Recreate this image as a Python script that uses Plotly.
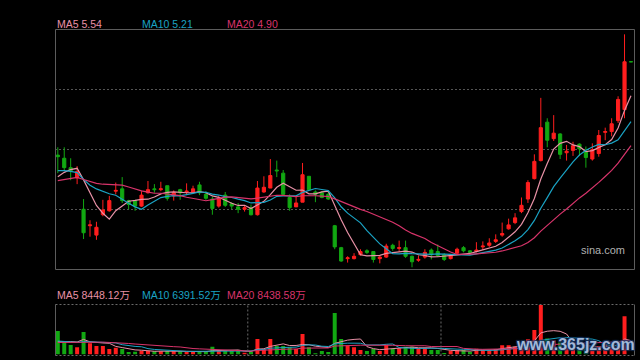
import plotly.graph_objects as go
import pandas as pd

# ---------------- data (daily bars) ----------------
open_ = [4.78, 4.74, 4.62, 4.49, 4.09, 3.88, 3.76, 4.02, 4.07, 4.32,
         4.35, 4.20, 4.20, 4.13, 4.30, 4.35, 4.34, 4.39, 4.26, 4.34,
         4.31, 4.31, 4.40, 4.28, 4.22, 4.13, 4.27, 4.16, 4.12, 4.09,
         4.11, 4.02, 4.31, 4.36, 4.59, 4.55, 4.24, 4.12, 4.18, 4.51,
         4.31, 4.30, 4.28, 3.88, 3.60, 3.46, 3.46, 3.51, 3.56, 3.55,
         3.46, 3.48, 3.63, 3.59, 3.60, 3.49, 3.44, 3.48, 3.57, 3.55,
         3.51, 3.46, 3.53, 3.60, 3.56, 3.55, 3.61, 3.63, 3.68, 3.76,
         3.84, 3.92, 4.06, 4.22, 4.48, 4.71, 5.20, 4.99, 5.05, 4.81,
         4.84, 4.92, 4.82, 4.73, 4.80, 5.07, 5.08, 5.22, 5.36, 5.97]
close = [4.76, 4.62, 4.58, 4.57, 3.79, 3.89, 3.86, 4.08, 4.20, 4.33,
         4.20, 4.15, 4.13, 4.27, 4.34, 4.34, 4.35, 4.23, 4.30, 4.30,
         4.32, 4.35, 4.30, 4.23, 4.10, 4.23, 4.14, 4.13, 4.09, 4.11,
         4.02, 4.36, 4.37, 4.52, 4.58, 4.28, 4.11, 4.17, 4.53, 4.34,
         4.28, 4.24, 4.22, 3.61, 3.43, 3.47, 3.49, 3.55, 3.54, 3.45,
         3.48, 3.62, 3.59, 3.60, 3.49, 3.42, 3.45, 3.54, 3.51, 3.50,
         3.45, 3.50, 3.58, 3.56, 3.54, 3.57, 3.62, 3.66, 3.70, 3.78,
         3.89, 3.98, 4.14, 4.43, 4.70, 5.13, 4.97, 5.06, 4.79, 4.83,
         4.90, 4.86, 4.75, 4.85, 5.03, 5.08, 5.18, 5.49, 5.97, 5.97]
high = [4.88, 4.88, 4.74, 4.64, 4.22, 3.95, 3.93, 4.21, 4.26, 4.43,
        4.50, 4.21, 4.21, 4.32, 4.45, 4.41, 4.44, 4.39, 4.33, 4.35,
        4.42, 4.39, 4.44, 4.32, 4.25, 4.26, 4.31, 4.18, 4.17, 4.14,
        4.15, 4.45, 4.51, 4.73, 4.71, 4.59, 4.28, 4.26, 4.68, 4.51,
        4.33, 4.32, 4.32, 3.89, 3.61, 3.49, 3.53, 3.58, 3.58, 3.55,
        3.50, 3.65, 3.65, 3.69, 3.69, 3.50, 3.50, 3.58, 3.59, 3.64,
        3.53, 3.52, 3.60, 3.62, 3.57, 3.67, 3.68, 3.72, 3.77, 3.92,
        3.97, 4.04, 4.24, 4.46, 4.79, 5.51, 5.25, 5.29, 5.06, 4.91,
        4.95, 4.93, 4.89, 4.93, 5.10, 5.13, 5.25, 5.53, 6.32, 5.97]
low = [4.55, 4.59, 4.46, 4.41, 3.71, 3.74, 3.70, 4.00, 4.06, 4.28,
       4.17, 4.09, 4.07, 4.12, 4.29, 4.30, 4.32, 4.20, 4.20, 4.21,
       4.27, 4.30, 4.27, 4.21, 4.02, 4.11, 4.12, 4.09, 4.04, 4.06,
       4.01, 4.01, 4.30, 4.36, 4.50, 4.26, 4.07, 4.12, 4.18, 4.33,
       4.18, 4.23, 4.21, 3.58, 3.42, 3.41, 3.45, 3.50, 3.52, 3.41,
       3.40, 3.47, 3.56, 3.55, 3.47, 3.35, 3.42, 3.46, 3.45, 3.48,
       3.43, 3.45, 3.52, 3.54, 3.51, 3.54, 3.57, 3.61, 3.66, 3.74,
       3.83, 3.90, 4.04, 4.17, 4.47, 4.70, 4.88, 4.96, 4.73, 4.71,
       4.77, 4.77, 4.62, 4.71, 4.76, 4.97, 5.02, 5.19, 5.25, 5.97]
# volume in 万 shares
volume = [14340, 7808, 5795, 4392, 13725, 6832, 5185, 5120, 3355, 4148,
          3355, 1525, 1708, 2318, 2290, 1952, 1940, 2135, 1960, 1985,
          1525, 1540, 1952, 1708, 4758, 2318, 2340, 2135, 2300, 1098,
          1525, 9455, 3172, 9420, 5185, 5160, 4392, 3355, 12505, 4380,
          732, 2135, 1525, 25315, 9455, 5368, 4392, 2745, 2135, 3355,
          2150, 5978, 3355, 3782, 4758, 4740, 3965, 4148, 2745, 2760,
          915, 2318, 2745, 2730, 1708, 3538, 2745, 2760, 3355, 5612,
          5600, 4758, 6832, 9272, 14945, 30195, 9760, 8540, 7320, 6710,
          3660, 4270, 4880, 3660, 5185, 6100, 5490, 7320, 23330, 0]
# off-chart history (before the first visible day), only used for the moving averages
prior_close = [4.36, 4.31, 4.27, 4.34, 4.39, 4.35, 4.30, 4.32, 4.34, 4.30,
               4.62, 4.69, 4.72, 4.65, 4.63, 4.34, 4.40, 4.49, 4.53]
prior_volume = [6200, 7100, 5800, 6900, 6300, 6000, 6700, 6500, 6100, 6450,
                9100, 8300, 8800, 8500, 8650, 6800, 6200, 5900, 5760]

price_labels = ["MA5 5.54", "MA10 5.21", "MA20 4.90"]
volume_labels = ["MA5 8448.12万", "MA10 6391.52万", "MA20 8438.58万"]
ma_windows = [5, 10, 20]

# ---------------- derived ----------------
n = len(close)
idx = list(range(n))
cs = pd.Series(prior_close + close)
vs = pd.Series(prior_volume + volume)
ma_price = [cs.rolling(w).mean().tolist()[-n:] for w in ma_windows]
ma_vol = [vs.rolling(w).mean().tolist()[-n:] for w in ma_windows]

RED = "#ff1e1e"
GREEN = "#12a812"
MA_COLORS = ["#e891a6", "#1aa3c4", "#d8346b"]
up = [c > o for o, c in zip(open_, close)]

W, H = 640, 360
PX0, PX1 = 55, 634
PY_TOP, PY_BOT = 29, 269
VY_TOP, VY_BOT = 304.7, 354.5


def px_x(v):
    return v / W


def px_y(v):
    return (H - v) / H


fig = go.Figure()


def pick(arr, mask):
    return [a if m else None for a, m in zip(arr, mask)]


for mask, col in [(up, RED), ([not u for u in up], GREEN)]:
    fig.add_trace(go.Candlestick(
        x=idx, open=pick(open_, mask), high=pick(high, mask),
        low=pick(low, mask), close=pick(close, mask),
        increasing=dict(line=dict(color=col, width=1), fillcolor=col),
        decreasing=dict(line=dict(color=col, width=1), fillcolor=col),
        whiskerwidth=0, showlegend=False, hoverinfo="skip",
        xaxis="x", yaxis="y"))

for ma, col in zip(ma_price, MA_COLORS):
    fig.add_trace(go.Scatter(x=idx, y=ma, mode="lines",
                             line=dict(color=col, width=1.2),
                             hoverinfo="skip", showlegend=False,
                             xaxis="x", yaxis="y"))

fig.add_trace(go.Bar(x=idx, y=volume, width=0.62,
                     marker=dict(color=[RED if u else GREEN for u in up], line=dict(width=0)),
                     hoverinfo="skip", showlegend=False, xaxis="x2", yaxis="y2"))
for ma, col in zip(ma_vol, MA_COLORS):
    fig.add_trace(go.Scatter(x=idx, y=ma, mode="lines",
                             line=dict(color=col, width=1),
                             hoverinfo="skip", showlegend=False,
                             xaxis="x2", yaxis="y2"))

xr = [-0.435, 89.47]
p_lo, p_hi = 3.328, 6.388
step = (p_hi - p_lo) / 4
vmax = 30380

fig.update_layout(
    width=W, height=H, margin=dict(l=0, r=0, t=0, b=0),
    paper_bgcolor="#000000", plot_bgcolor="#000000",
    showlegend=False, boxgap=0.3,
    font=dict(family="Liberation Sans, Arial, Noto Sans CJK SC", size=11),
    xaxis=dict(domain=[px_x(PX0), px_x(PX1)], range=xr, anchor="y",
               showticklabels=False, showgrid=False, zeroline=False,
               showline=False, ticks="", rangeslider=dict(visible=False)),
    yaxis=dict(domain=[px_y(PY_BOT), px_y(PY_TOP)], range=[p_lo, p_hi], anchor="x",
               tickvals=[p_lo + step * k for k in (1, 2, 3)],
               showticklabels=False, showgrid=True, gridcolor="#555555",
               griddash="2px,2px", gridwidth=1, zeroline=False, ticks=""),
    xaxis2=dict(domain=[px_x(PX0), px_x(PX1)], range=xr, anchor="y2",
                showticklabels=False, showgrid=False, zeroline=False, ticks=""),
    yaxis2=dict(domain=[px_y(VY_BOT), px_y(VY_TOP)], range=[0, vmax], anchor="x2",
                showticklabels=False, showgrid=False, zeroline=False, ticks=""),
)

BORDER = "#5c5c5c"
DOT = "#6a6a6a"
shapes = [
    dict(type="rect", xref="paper", yref="paper",
         x0=px_x(PX0 + 0.5), x1=px_x(PX1 + 0.5), y0=px_y(PY_BOT + 0.5), y1=px_y(PY_TOP + 0.5),
         line=dict(color=BORDER, width=1), fillcolor="rgba(0,0,0,0)", layer="above"),
    dict(type="line", xref="paper", yref="paper",
         x0=px_x(PX0 + 0.5), x1=px_x(PX0 + 0.5), y0=px_y(355.5), y1=px_y(304.5),
         line=dict(color=BORDER, width=1)),
    dict(type="line", xref="paper", yref="paper",
         x0=px_x(PX1 + 0.5), x1=px_x(PX1 + 0.5), y0=px_y(355.5), y1=px_y(304.5),
         line=dict(color=BORDER, width=1)),
    dict(type="line", xref="paper", yref="paper",
         x0=px_x(PX0 + 0.5), x1=px_x(PX1 + 0.5), y0=px_y(304.5), y1=px_y(304.5),
         line=dict(color=DOT, width=1, dash="2px,2px")),
    dict(type="line", xref="paper", yref="paper",
         x0=px_x(PX0 + 0.5), x1=px_x(PX1 + 0.5), y0=px_y(355.5), y1=px_y(355.5),
         line=dict(color=DOT, width=1, dash="2px,2px")),
]
for b in (29.5, 59.5):
    shapes.append(dict(type="line", xref="x2", yref="paper", x0=b, x1=b,
                       y0=px_y(355.5), y1=px_y(304.5),
                       line=dict(color=DOT, width=1, dash="2px,2px")))
fig.update_layout(shapes=shapes)

ann = []
for txt, xpos, col in zip(price_labels, [55, 140, 225], MA_COLORS):
    ann.append(dict(text=txt, x=px_x(xpos), y=px_y(24), xref="paper", yref="paper",
                    xanchor="left", yanchor="middle", showarrow=False,
                    font=dict(color=col, size=10.5)))
for txt, xpos, col in zip(volume_labels, [55, 140, 225], MA_COLORS):
    ann.append(dict(text=txt, x=px_x(xpos), y=px_y(295), xref="paper", yref="paper",
                    xanchor="left", yanchor="middle", showarrow=False,
                    font=dict(color=col, size=10.5)))
ann.append(dict(text="sina.com", x=px_x(602.5), y=px_y(250), xref="paper", yref="paper",
                xanchor="center", yanchor="middle", showarrow=False,
                font=dict(color="#b0b0b0", size=11)))
ann.append(dict(text="<b>www.365jz.com</b>", x=px_x(575), y=px_y(344.5), xref="paper", yref="paper",
                xanchor="center", yanchor="middle", showarrow=False,
                font=dict(color="rgba(190,210,240,0.85)", size=16,
                          family="Liberation Sans, Arial",
                          shadow="1px 1px 1px #16335e, -1px -1px 1px #16335e, 1px -1px 1px #16335e, -1px 1px 1px #16335e")))
fig.update_layout(annotations=ann)

fig.write_html("out.html",
               config={"displayModeBar": False, "staticPlot": True},
               post_script="document.body.style.margin='0';document.body.style.padding='0';"
                           "document.body.style.overflow='hidden';document.body.style.background='#000';")
